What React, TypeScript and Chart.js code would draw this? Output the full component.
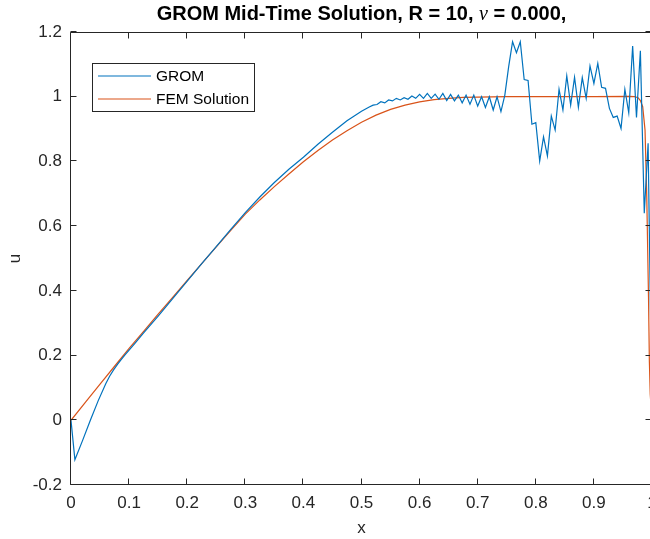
import React, { useEffect, useRef } from "react";
import { Chart, registerables } from "chart.js";

Chart.register(...registerables);

// ---- data ----
const xTicks = [0, 0.1, 0.2, 0.3, 0.4, 0.5, 0.6, 0.7, 0.8, 0.9, 1];
const xTickLabels = ["0", "0.1", "0.2", "0.3", "0.4", "0.5", "0.6", "0.7", "0.8", "0.9", "1"];
const yTicks = [-0.2, 0, 0.2, 0.4, 0.6, 0.8, 1, 1.2];
const yTickLabels = ["-0.2", "0", "0.2", "0.4", "0.6", "0.8", "1", "1.2"];

const gromX = [
  0, 0.0067, 0.02, 0.0333, 0.0467, 0.06, 0.0667, 0.0733, 0.08, 0.0867, 0.0933, 0.1, 0.11, 0.125,
  0.15, 0.175, 0.2, 0.225, 0.25, 0.275, 0.3, 0.325, 0.35, 0.375, 0.4, 0.425, 0.45, 0.475, 0.5,
  0.5133, 0.52, 0.5267,
  0.5333, 0.54, 0.5467, 0.5533, 0.56, 0.5667, 0.5733, 0.58, 0.5867, 0.5933,
  0.6, 0.6067, 0.6133, 0.62, 0.6267, 0.6333, 0.64, 0.6467, 0.6533, 0.66,
  0.6667, 0.6733, 0.68, 0.6867, 0.6933, 0.7, 0.7067, 0.7133, 0.72, 0.7267,
  0.7333, 0.74, 0.7467, 0.7533, 0.76, 0.7667, 0.7733, 0.78, 0.7867, 0.7933,
  0.8, 0.8067, 0.8133, 0.82, 0.8267, 0.8333, 0.84, 0.8467, 0.8533, 0.86,
  0.8667, 0.8733, 0.88, 0.8867, 0.8933, 0.9, 0.9067, 0.9133, 0.92, 0.9267,
  0.9333, 0.94, 0.9467, 0.9533, 0.96, 0.9667, 0.9733, 0.98, 0.9867, 0.9933, 1,
];
const gromY = [
  0, -0.122, -0.062, 0.0, 0.06, 0.114, 0.137, 0.156, 0.173, 0.188, 0.203, 0.217, 0.238, 0.27,
  0.322, 0.376, 0.43, 0.484, 0.537, 0.59, 0.642, 0.69, 0.735, 0.776, 0.813, 0.853, 0.89, 0.926, 0.955,
  0.968, 0.974, 0.976,
  0.9845, 0.981, 0.99, 0.987, 0.995, 0.99, 0.997, 0.992, 1.002, 0.995,
  1.007, 0.995, 1.01, 0.995, 1.008, 0.992, 1.01, 0.988, 1.007, 0.987,
  1.005, 0.981, 1.005, 0.977, 1.005, 0.971, 1.0, 0.967, 1.0, 0.959,
  1.0, 0.954, 1.005, 1.093, 1.17, 1.136, 1.17, 1.053, 1.05, 0.915,
  0.92, 0.801, 0.876, 0.817, 0.94, 0.897, 1.023, 0.959, 1.064, 0.974,
  1.06, 0.967, 1.059, 0.995, 1.095, 1.041, 1.103, 1.029, 1.026, 0.964,
  0.936, 0.94, 0.902, 1.023, 0.95, 1.157, 0.936, 1.142, 0.64, 0.856, 0,
];

const femX = [
  0, 0.025, 0.05, 0.075, 0.1, 0.125, 0.15, 0.175, 0.2, 0.225, 0.25, 0.275, 0.3, 0.325, 0.35, 0.375,
  0.4, 0.425, 0.45, 0.475, 0.5, 0.525, 0.55, 0.575, 0.6, 0.625, 0.65, 0.675, 0.7, 0.75, 0.8, 0.9,
  0.96, 0.97, 0.976, 0.98, 0.984, 0.988, 0.991, 0.994, 0.9955, 0.997, 1,
];
const femY = [
  0, 0.056, 0.112, 0.167, 0.222, 0.275, 0.328, 0.38, 0.432, 0.484, 0.536, 0.587, 0.637, 0.681, 0.722, 0.761,
  0.799, 0.834, 0.866, 0.895, 0.921, 0.943, 0.961, 0.974, 0.984, 0.991, 0.995, 0.998, 0.999, 1.0, 1.0, 1.0,
  1.001, 1.0, 0.997, 0.988, 0.969, 0.897, 0.69, 0.38, 0.18, 0.08, 0,
];

const seriesNames = ["GROM", "FEM Solution"];
const seriesColors = ["#0072BD", "#D95319"];
const titleParts = ["GROM Mid-Time Solution, R = 10, ", "\u03BD", " = 0.000,"];
const xLabel = "x";
const yLabel = "u";

const AXIS = "#262626";
const FONT = '"Liberation Sans", Arial, sans-serif';

const decorPlugin = {
  id: "decor",
  afterDraw(chart: any) {
    const { ctx, chartArea } = chart;
    const { left, right, top, bottom } = chartArea;
    const xs = chart.scales.x;
    const ys = chart.scales.y;
    ctx.save();
    // box
    ctx.strokeStyle = AXIS;
    ctx.lineWidth = 1;
    const L = Math.round(left) - 0.5;
    const R = Math.round(right) - 0.5;
    const T = Math.round(top) + 0.5;
    const B = Math.round(bottom) - 0.5;
    ctx.beginPath();
    ctx.moveTo(L, T);
    ctx.lineTo(R, T);
    ctx.lineTo(R, B);
    ctx.lineTo(L, B);
    ctx.closePath();
    ctx.stroke();
    // ticks (inward)
    const tl = 6;
    ctx.beginPath();
    xTicks.forEach((v) => {
      const px = Math.round(xs.getPixelForValue(v)) - 0.5;
      ctx.moveTo(px, B);
      ctx.lineTo(px, B - tl);
      ctx.moveTo(px, T);
      ctx.lineTo(px, T + tl);
    });
    yTicks.forEach((v) => {
      const py = Math.round(ys.getPixelForValue(v)) - 0.5;
      ctx.moveTo(L, py);
      ctx.lineTo(L + tl, py);
      ctx.moveTo(R, py);
      ctx.lineTo(R - tl, py);
    });
    ctx.stroke();

    // title
    const cx = (left + right) / 2;
    const fBold = `bold 20px ${FONT}`;
    const fNu = `italic 20px "Liberation Serif", serif`;
    ctx.font = fBold;
    const w0 = ctx.measureText(titleParts[0]).width;
    const w2 = ctx.measureText(titleParts[2]).width;
    ctx.font = fNu;
    const w1 = ctx.measureText(titleParts[1]).width;
    const x0 = cx - (w0 + w1 + w2) / 2;
    const ty = 20;
    ctx.fillStyle = "#000000";
    ctx.textBaseline = "alphabetic";
    ctx.textAlign = "left";
    ctx.font = fBold;
    ctx.fillText(titleParts[0], x0, ty);
    ctx.font = fNu;
    ctx.fillText(titleParts[1], x0 + w0, ty);
    ctx.font = fBold;
    ctx.fillText(titleParts[2], x0 + w0 + w1, ty);

    // axis labels
    ctx.fillStyle = AXIS;
    ctx.font = `17px ${FONT}`;
    ctx.textAlign = "center";
    ctx.textBaseline = "middle";
    ctx.fillText(xLabel, cx, 528);
    ctx.save();
    ctx.translate(15, (top + bottom) / 2);
    ctx.rotate(-Math.PI / 2);
    ctx.fillText(yLabel, 0, 0);
    ctx.restore();

    // legend
    const lx = 92.5, ly = 63.5, lw = 162, lh = 48;
    ctx.fillStyle = "#ffffff";
    ctx.fillRect(lx, ly, lw, lh);
    ctx.strokeStyle = AXIS;
    ctx.lineWidth = 1;
    ctx.strokeRect(lx, ly, lw, lh);
    ctx.font = `15.5px ${FONT}`;
    ctx.textAlign = "left";
    ctx.textBaseline = "middle";
    const rows = [76, 99];
    seriesNames.forEach((name, i) => {
      ctx.strokeStyle = seriesColors[i];
      ctx.lineWidth = 1.2;
      ctx.beginPath();
      ctx.moveTo(98, rows[i]);
      ctx.lineTo(151, rows[i]);
      ctx.stroke();
      ctx.fillStyle = "#000000";
      ctx.fillText(name, 156, rows[i] + 1);
    });
    ctx.restore();
  },
};

export default function App() {
  const ref = useRef<HTMLCanvasElement | null>(null);
  useEffect(() => {
    if (!ref.current) return;
    const chart = new Chart(ref.current, {
      type: "scatter",
      data: {
        datasets: [
          {
            label: seriesNames[0],
            data: gromX.map((x, i) => ({ x, y: gromY[i] })),
            showLine: true,
            borderColor: seriesColors[0],
            backgroundColor: seriesColors[0],
            borderWidth: 1.2,
            pointRadius: 0,
            tension: 0,
          },
          {
            label: seriesNames[1],
            data: femX.map((x, i) => ({ x, y: femY[i] })),
            showLine: true,
            borderColor: seriesColors[1],
            backgroundColor: seriesColors[1],
            borderWidth: 1.2,
            pointRadius: 0,
            tension: 0,
          },
        ],
      },
      options: {
        animation: false,
        responsive: false,
        devicePixelRatio: 1,
        layout: { padding: { left: 0, right: 8, top: 32, bottom: 0 } },
        plugins: { legend: { display: false }, title: { display: false }, tooltip: { enabled: false } },
        scales: {
          x: {
            type: "linear",
            min: 0,
            max: 1,
            afterBuildTicks: (s: any) => {
              s.ticks = xTicks.map((v) => ({ value: v }));
            },
            afterFit: (s: any) => {
              s.height = 54;
              s.paddingLeft = 0;
              s.paddingRight = 0;
            },
            grid: { display: false, drawTicks: false },
            border: { display: false },
            ticks: {
              autoSkip: false,
              maxRotation: 0,
              padding: 8,
              color: AXIS,
              font: { family: FONT, size: 17 },
              callback: (_v: any, i: number) => xTickLabels[i],
            },
          },
          y: {
            type: "linear",
            min: -0.2,
            max: 1.2,
            afterBuildTicks: (s: any) => {
              s.ticks = yTicks.map((v) => ({ value: v }));
            },
            afterFit: (s: any) => {
              s.width = 71;
              s.paddingTop = 0;
              s.paddingBottom = 0;
            },
            grid: { display: false, drawTicks: false },
            border: { display: false },
            ticks: {
              autoSkip: false,
              padding: 9,
              color: AXIS,
              font: { family: FONT, size: 17 },
              callback: (_v: any, i: number) => yTickLabels[i],
            },
          },
        },
      },
      plugins: [decorPlugin],
    });
    return () => chart.destroy();
  }, []);
  return (
    <div
      style={{
        position: "fixed",
        left: 0,
        top: 0,
        width: 650,
        height: 539,
        overflow: "hidden",
        background: "#ffffff",
      }}
    >
      <canvas ref={ref} width={660} height={539} style={{ display: "block", width: 660, height: 539 }} />
    </div>
  );
}
